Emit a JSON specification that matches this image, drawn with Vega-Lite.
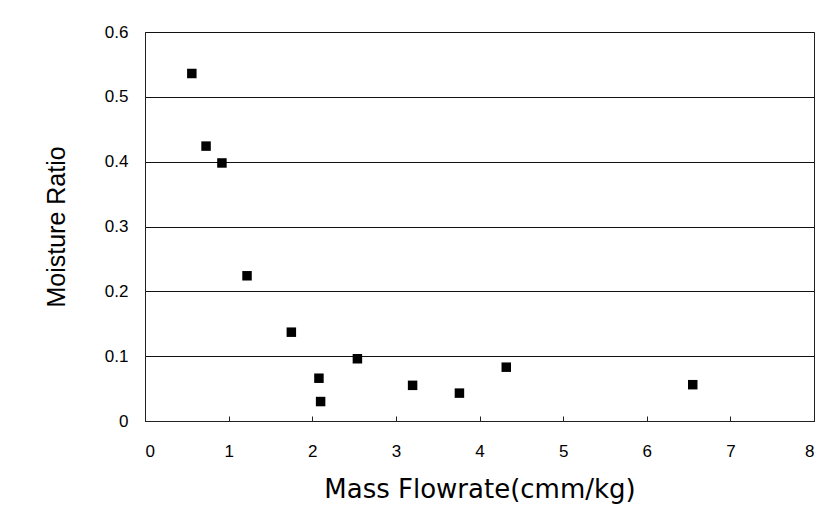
{
  "$schema": "https://vega.github.io/schema/vega-lite/v6.json",
  "autosize": "none",
  "width": 669,
  "height": 389,
  "padding": {"left": 145, "top": 32, "right": 6, "bottom": 101},
  "background": "white",
  "config": {
    "font": "Liberation Sans",
    "view": {"stroke": "#222", "strokeWidth": 1},
    "axis": {"labelFont": "Liberation Sans", "titleFont": "Liberation Sans", "labelColor": "black", "titleColor": "black", "domainColor": "#222", "tickColor": "#222", "titleFontWeight": "normal"}
  },
  "data": {
    "values": [
      {"flow": 0.56, "mr": 0.536},
      {"flow": 0.73, "mr": 0.424},
      {"flow": 0.92, "mr": 0.398},
      {"flow": 1.22, "mr": 0.224},
      {"flow": 1.75, "mr": 0.137},
      {"flow": 2.08, "mr": 0.066},
      {"flow": 2.10, "mr": 0.030},
      {"flow": 2.54, "mr": 0.096},
      {"flow": 3.20, "mr": 0.055},
      {"flow": 3.76, "mr": 0.043},
      {"flow": 4.32, "mr": 0.083},
      {"flow": 6.55, "mr": 0.056}
    ]
  },
  "mark": {"type": "point", "shape": "square", "filled": true, "color": "black", "opacity": 1, "size": 90},
  "encoding": {
    "x": {
      "field": "flow", "type": "quantitative",
      "scale": {"domain": [0, 8], "nice": false, "zero": true},
      "axis": {"title": "Mass Flowrate(cmm/kg)", "values": [0,1,2,3,4,5,6,7,8], "format": "d", "grid": false, "tickSize": -5, "labelPadding": 27, "labelFontSize": 17, "titleFont": "DejaVu Sans", "titleFontSize": 26, "titlePadding": 17, "domain": true}
    },
    "y": {
      "field": "mr", "type": "quantitative",
      "scale": {"domain": [0, 0.6], "nice": false},
      "axis": {"title": "Moisture Ratio", "values": [0, 0.1, 0.2, 0.3, 0.4, 0.5, 0.6], "labelExpr": "datum.value == 0 ? '0' : format(datum.value, '.1f')", "grid": true, "gridColor": "#111", "gridOpacity": 1, "gridWidth": 1, "ticks": false, "labelPadding": 17, "labelFontSize": 17, "titleFontSize": 25, "titlePadding": 35}
    }
  }
}
